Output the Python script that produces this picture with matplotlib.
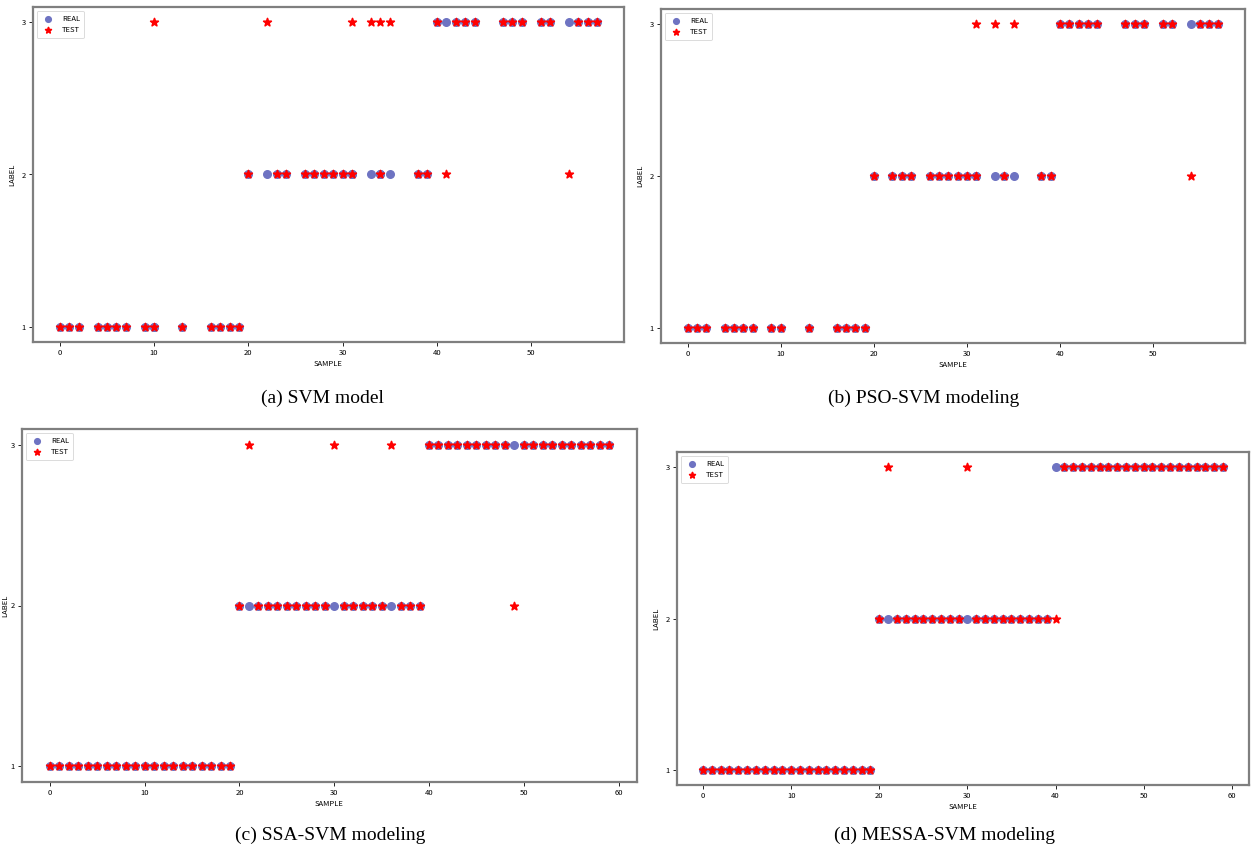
import matplotlib.pyplot as plt

# ---- data ----
a_sample = [0, 1, 2, 4, 5, 6, 7, 9, 10, 10, 13, 16, 17, 18, 19,
            20, 22, 23, 24, 26, 27, 28, 29, 30, 31, 31, 33, 34, 34, 35, 38, 39,
            40, 41, 42, 43, 44, 47, 48, 49, 51, 52, 54, 55, 56, 57]
a_real = [1, 1, 1, 1, 1, 1, 1, 1, 1, 1, 1, 1, 1, 1, 1,
          2, 2, 2, 2, 2, 2, 2, 2, 2, 2, 2, 2, 2, 2, 2, 2, 2,
          3, 3, 3, 3, 3, 3, 3, 3, 3, 3, 3, 3, 3, 3]
a_test = [1, 1, 1, 1, 1, 1, 1, 1, 1, 3, 1, 1, 1, 1, 1,
          2, 3, 2, 2, 2, 2, 2, 2, 2, 2, 3, 3, 2, 3, 3, 2, 2,
          3, 2, 3, 3, 3, 3, 3, 3, 3, 3, 2, 3, 3, 3]

b_sample = [0, 1, 2, 4, 5, 6, 7, 9, 10, 13, 16, 17, 18, 19,
            20, 22, 23, 24, 26, 27, 28, 29, 30, 31, 31, 33, 34, 35, 38, 39,
            40, 41, 42, 43, 44, 47, 48, 49, 51, 52, 54, 55, 56, 57]
b_real = [1, 1, 1, 1, 1, 1, 1, 1, 1, 1, 1, 1, 1, 1,
          2, 2, 2, 2, 2, 2, 2, 2, 2, 2, 2, 2, 2, 2, 2, 2,
          3, 3, 3, 3, 3, 3, 3, 3, 3, 3, 3, 3, 3, 3]
b_test = [1, 1, 1, 1, 1, 1, 1, 1, 1, 1, 1, 1, 1, 1,
          2, 2, 2, 2, 2, 2, 2, 2, 2, 2, 3, 3, 2, 3, 2, 2,
          3, 3, 3, 3, 3, 3, 3, 3, 3, 3, 2, 3, 3, 3]

c_sample = list(range(60))
c_real = [1] * 20 + [2] * 20 + [3] * 20
c_test = [1, 1, 1, 1, 1, 1, 1, 1, 1, 1, 1, 1, 1, 1, 1, 1, 1, 1, 1, 1,
          2, 3, 2, 2, 2, 2, 2, 2, 2, 2, 3, 2, 2, 2, 2, 2, 3, 2, 2, 2,
          3, 3, 3, 3, 3, 3, 3, 3, 3, 2, 3, 3, 3, 3, 3, 3, 3, 3, 3, 3]

d_sample = list(range(60))
d_real = [1] * 20 + [2] * 20 + [3] * 20
d_test = [1, 1, 1, 1, 1, 1, 1, 1, 1, 1, 1, 1, 1, 1, 1, 1, 1, 1, 1, 1,
          2, 3, 2, 2, 2, 2, 2, 2, 2, 2, 3, 2, 2, 2, 2, 2, 2, 2, 2, 2,
          2, 3, 3, 3, 3, 3, 3, 3, 3, 3, 3, 3, 3, 3, 3, 3, 3, 3, 3, 3]

captions = ['(a) SVM model', '(b) PSO-SVM modeling',
            '(c) SSA-SVM modeling', '(d) MESSA-SVM modeling']

W, H = 1255, 852
# axes frames in pixels: x0, y0, x1, y1 (top-left origin)
frames = [(33, 7, 624, 342), (661, 9, 1245, 343),
          (22, 429, 637, 782), (677, 452, 1249, 785)]
caption_pos = [(322, 398), (924, 398), (330, 835), (945, 835)]
ylabel_pad = [4, 4, 1, 4]

panels = [(a_sample, a_real, a_test), (b_sample, b_real, b_test),
          (c_sample, c_real, c_test), (d_sample, d_real, d_test)]

tick_font = ['Noto Sans CJK SC', 'DejaVu Sans']

fig = plt.figure(figsize=(W / 100, H / 100), dpi=100, facecolor='white')

for i, ((x0, y0, x1, y1), (xs, real, test)) in enumerate(zip(frames, panels)):
    ax = fig.add_axes([x0 / W, 1 - y1 / H, (x1 - x0) / W, (y1 - y0) / H])
    ax.scatter(xs, real, s=30, c='#6e73c2', marker='o', label='REAL', zorder=2)
    ax.scatter(xs, test, s=34, c='red', marker='*', edgecolors='red',
               linewidths=1.2, label='TEST', zorder=3)
    ax.set_yticks([1, 2, 3])
    ax.set_xlabel('SAMPLE', fontsize=5.5, family=tick_font, labelpad=2)
    ax.set_ylabel('LABEL', fontsize=5.5, family=tick_font, labelpad=ylabel_pad[i])
    ax.tick_params(labelsize=5.5, length=3, width=0.6, pad=2)
    for lab in ax.get_xticklabels() + ax.get_yticklabels():
        lab.set_family(tick_font)
    for sp in ax.spines.values():
        sp.set_color('#7f7f7f')
        sp.set_linewidth(1.6)
    leg = ax.legend(loc='upper left', prop={'family': tick_font, 'size': 5.5},
                    markerscale=0.75, handletextpad=0.8, borderpad=0.5, framealpha=0.8)
    leg.get_frame().set_linewidth(0.6)
    cx, cy = caption_pos[i]
    fig.text(cx / W, 1 - cy / H, captions[i], ha='center', va='center',
             fontsize=14, family='Liberation Serif')

fig.savefig('out.png', dpi=100)
